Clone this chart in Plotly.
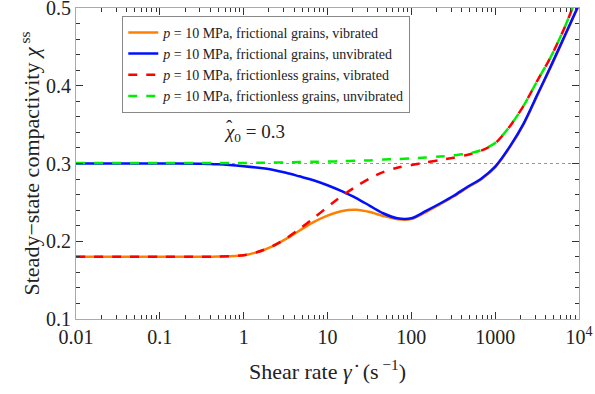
import plotly.graph_objects as go

# shear rates (s^-1), shared grid
x_rate = [0.01, 0.1, 0.3, 0.5, 1, 1.5, 2.2, 3.2, 4.6, 6.8, 10, 15, 22, 32, 46, 68, 100, 150, 220,
          320, 460, 680, 1000, 1500, 2200, 3200, 4600, 6800, 10000]

# frictional grains, vibrated (orange)
y_orange = [0.180, 0.180, 0.180, 0.1803, 0.182, 0.1865, 0.1935, 0.203, 0.2135, 0.2245, 0.2330, 0.2390,
            0.2405, 0.2375, 0.2325, 0.2283, 0.2285, 0.2375, 0.2475, 0.2575, 0.2685, 0.2795, 0.295,
            0.321, 0.351, 0.388, 0.424, 0.464, 0.504]
# frictional grains, unvibrated (blue)
y_blue = [0.300, 0.300, 0.2997, 0.299, 0.2965, 0.2945, 0.292, 0.288, 0.2835, 0.2785, 0.272, 0.264,
          0.2555, 0.2455, 0.236, 0.2295, 0.2295, 0.239, 0.2485, 0.2585, 0.2695, 0.2805, 0.296,
          0.322, 0.352, 0.389, 0.425, 0.465, 0.505]
# frictionless grains, vibrated (red)
y_red = [0.180, 0.180, 0.180, 0.1803, 0.182, 0.1865, 0.1935, 0.2035, 0.2155, 0.2295, 0.2440, 0.2585,
         0.2705, 0.281, 0.289, 0.2945, 0.298, 0.3015, 0.3045, 0.3075, 0.311, 0.3165, 0.326,
         0.348, 0.375, 0.407, 0.437, 0.476, 0.522]
# frictionless grains, unvibrated (green)
y_green = [0.3005, 0.3005, 0.3005, 0.3005, 0.3007, 0.301, 0.3012, 0.3015, 0.302, 0.3022, 0.3025,
           0.303, 0.3035, 0.304, 0.305, 0.3058, 0.3065, 0.3078, 0.309, 0.3105, 0.3125, 0.317, 0.3265,
           0.348, 0.375, 0.407, 0.437, 0.476, 0.522]

ref_level = 0.3

tick_vals = [0.01, 0.1, 1, 10, 100, 1000, 10000]
tick_text = ["0.01", "0.1", "1", "10", "100", "1000", "10<sup>4</sup>"]
minor_x = [m * 10 ** e for e in range(-2, 4) for m in range(2, 10)]
y_ticks = [0.1, 0.2, 0.3, 0.4, 0.5]
y_tick_text = ["0.1", "0.2", "0.3", "0.4", "0.5"]
minor_y = [0.12, 0.14, 0.16, 0.18, 0.22, 0.24, 0.26, 0.28, 0.32, 0.34, 0.36, 0.38,
           0.42, 0.44, 0.46, 0.48]

names = [
    "<i>p</i> = 10 MPa, frictional grains, vibrated",
    "<i>p</i> = 10 MPa, frictional grains, unvibrated",
    "<i>p</i> = 10 MPa, frictionless grains, vibrated",
    "<i>p</i> = 10 MPa, frictionless grains, unvibrated",
]

FONT = "Liberation Serif, Times New Roman, serif"
TXT = "#222222"

fig = go.Figure()
fig.add_trace(go.Scatter(x=x_rate, y=y_orange, mode="lines", name=names[0],
                         line=dict(color="#ff8000", width=2.5, shape="spline", smoothing=0.8)))
fig.add_trace(go.Scatter(x=x_rate, y=y_blue, mode="lines", name=names[1],
                         line=dict(color="#0010ff", width=2.5, shape="spline", smoothing=0.8)))
fig.add_trace(go.Scatter(x=x_rate, y=y_red, mode="lines", name=names[2],
                         line=dict(color="#ff0000", width=2.5, dash="dash", shape="spline", smoothing=0.8)))
fig.add_trace(go.Scatter(x=x_rate, y=y_green, mode="lines", name=names[3],
                         line=dict(color="#00ee00", width=2.5, dash="dash", shape="spline", smoothing=0.8)))

fig.add_shape(type="line", xref="paper", yref="y", x0=0, x1=1, y0=ref_level, y1=ref_level,
              line=dict(color="#999999", width=1, dash="dot"), layer="below")

# annotation text with the hat drawn as a separate small mark above chi
fig.add_annotation(x=0.290, y=0.598, xref="paper", yref="paper", showarrow=False,
                   xanchor="left", yanchor="middle",
                   text="<i>χ</i><sub>0</sub> = 0.3", font=dict(family=FONT, size=19, color=TXT))
fig.add_annotation(x=0.305, y=0.618, xref="paper", yref="paper", showarrow=False,
                   xanchor="center", yanchor="middle",
                   text="ˆ", font=dict(family=FONT, size=19, color=TXT))

axis_common = dict(showgrid=False, zeroline=False, showline=True, linecolor="#aaaaaa", linewidth=1,
                   mirror="ticks", ticks="inside", ticklen=7, tickcolor="#333", tickwidth=1,
                   ticklabeloverflow="allow", automargin=False,
                   tickfont=dict(family=FONT, size=20, color=TXT))

fig.update_xaxes(type="log", range=[-2.0001, 4.0001], tickvals=tick_vals, ticktext=tick_text,
                 minor=dict(tickmode="array", tickvals=minor_x, ticks="inside", ticklen=4, tickcolor="#333"),
                 title=dict(text="Shear rate <i>γ̇</i>  (s<sup> −1</sup>)",
                            font=dict(family=FONT, size=22, color=TXT), standoff=16),
                 **axis_common)
fig.update_yaxes(range=[0.0999, 0.5001], tickvals=y_ticks, ticktext=y_tick_text,
                 minor=dict(tickmode="array", tickvals=minor_y, ticks="inside", ticklen=4, tickcolor="#333"),
                 title=dict(text="Steady−state compactivity <i>χ</i><sup> ss</sup>",
                            font=dict(family=FONT, size=22, color=TXT), standoff=0),
                 **axis_common)

fig.update_layout(
    template="none",
    width=595, height=394,
    margin=dict(l=76, r=16, t=8, b=75),
    plot_bgcolor="white", paper_bgcolor="white",
    font=dict(family=FONT, color=TXT),
    showlegend=True,
    legend=dict(x=0.092, y=0.975, xanchor="left", yanchor="top",
                bgcolor="white", bordercolor="#888888", borderwidth=1,
                font=dict(family=FONT, size=14, color=TXT),
                tracegroupgap=0, itemwidth=30),
)

fig.write_html("out.html")
